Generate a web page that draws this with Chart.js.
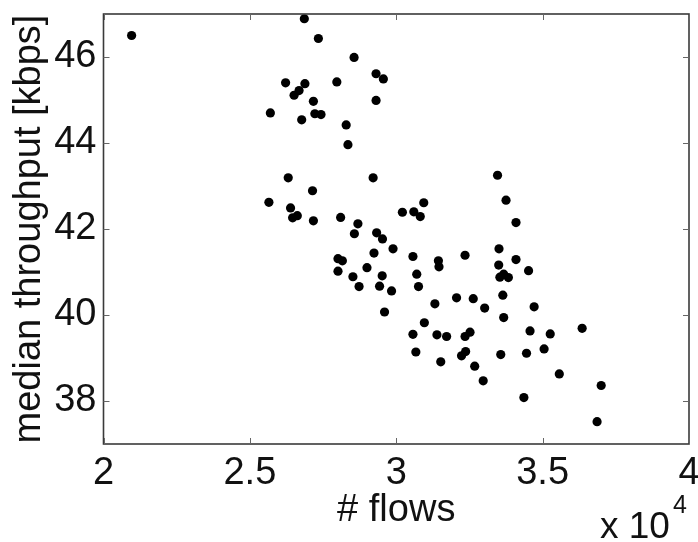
<!DOCTYPE html>
<html>
<head>
<meta charset="utf-8">
<script src="https://cdn.jsdelivr.net/npm/chart.js@4/dist/chart.umd.min.js"></script>
<style>
  html, body { margin: 0; padding: 0; background: #fff; }
  #wrap { width: 698px; height: 542px; }
</style>
</head>
<body>
<div id="wrap"><canvas id="c" width="698" height="542"></canvas></div>
<script>
// number of flows (raw counts; axis shows them in units of 10^4)
const flows = [
  20960, 26860, 27340, 28560, 29310, 29560, 26220, 26880, 27970, 26680,
  26510, 27170, 29310, 25700, 27220, 27430, 26770, 28290, 28350, 26310,
  29210, 27140, 25650, 26390, 26460, 26620, 27170, 28100, 28690, 30210,
  30600, 30940, 30820, 28570, 29330, 29530, 29890, 29240, 28010, 28160,
  30570, 31440, 31460, 32350, 29000, 28010, 28520, 29520, 30700, 28730,
  29430, 29840, 30760, 31320, 32060, 32630, 33020, 29600, 30960, 30570,
  31390, 31720, 32520, 32350, 33460, 33750, 34090, 33510, 34090, 33500,
  33540, 33670, 33830, 34520, 33640, 34710, 33670, 34570, 35260, 36350,
  30670, 31520, 32230, 32370, 32680, 33570, 34450, 35050, 32970, 35570,
  37000, 34360, 36860
];
// median throughput [kbps]
const throughput = [
  46.50, 46.89, 46.43, 45.99, 45.61, 45.49, 45.40, 45.38, 45.42, 45.22,
  45.11, 44.97, 44.99, 44.70, 44.68, 44.66, 44.54, 44.42, 43.96, 43.19,
  43.19, 42.89, 42.62, 42.49, 42.26, 42.31, 42.19, 42.27, 42.12, 42.39,
  42.40, 42.61, 42.29, 41.89, 41.91, 41.77, 41.54, 41.44, 41.31, 41.26,
  41.36, 41.26, 41.12, 41.39, 41.10, 41.02, 40.89, 40.91, 40.95, 40.66,
  40.67, 40.56, 40.66, 40.26, 40.40, 40.38, 40.16, 40.07, 39.82, 39.55,
  39.54, 39.50, 39.60, 39.50, 43.25, 42.67, 42.15, 41.54, 41.29, 41.16,
  40.88, 40.95, 40.87, 41.03, 40.46, 40.19, 39.94, 39.63, 39.56, 39.69,
  39.14, 38.91, 39.05, 39.15, 38.81, 39.08, 39.11, 39.21, 38.47, 38.63,
  38.36, 38.08, 37.52
];
const xTicks = [20000, 25000, 30000, 35000, 40000];
const yTicks = [38, 40, 42, 44, 46];
const xTitle = '# flows';
const yTitle = 'median throughput [kbps]';
const xExponent = '4';

const points = flows.map((f, i) => ({ x: f, y: throughput[i] }));
const FONT = 'Liberation Sans, Arial, Helvetica, sans-serif';

const boxPlugin = {
  id: 'matlabBox',
  afterDraw(chart) {
    const { ctx, chartArea: a, scales } = chart;
    ctx.save();
    ctx.strokeStyle = '#3a3a3a';
    ctx.lineWidth = 1.6;
    ctx.strokeRect(a.left, a.top, a.right - a.left, a.bottom - a.top);
    ctx.lineWidth = 1;
    ctx.strokeStyle = '#666';
    const tl = 6;
    ctx.beginPath();
    xTicks.forEach(v => {
      const px = Math.round(scales.x.getPixelForValue(v)) + 0.5;
      ctx.moveTo(px, a.bottom); ctx.lineTo(px, a.bottom - tl);
      ctx.moveTo(px, a.top); ctx.lineTo(px, a.top + tl);
    });
    yTicks.forEach(v => {
      const py = Math.round(scales.y.getPixelForValue(v)) + 0.5;
      ctx.moveTo(a.left, py); ctx.lineTo(a.left + tl, py);
      ctx.moveTo(a.right, py); ctx.lineTo(a.right - tl, py);
    });
    ctx.stroke();
    // exponent label "x 10^4"
    ctx.fillStyle = '#111';
    ctx.textBaseline = 'alphabetic';
    ctx.textAlign = 'left';
    ctx.font = '37px ' + FONT;
    ctx.fillText('x 10', 600, 538);
    const w = ctx.measureText('x 10').width;
    ctx.font = '25px ' + FONT;
    ctx.fillText(xExponent, 600 + w + 3, 513);
    ctx.restore();
  }
};

new Chart(document.getElementById('c'), {
  type: 'scatter',
  data: {
    datasets: [{
      data: points,
      backgroundColor: '#000',
      borderColor: '#000',
      pointRadius: 4.6,
      pointHoverRadius: 4.6,
      borderWidth: 0
    }]
  },
  options: {
    responsive: false,
    animation: false,
    devicePixelRatio: 1,
    layout: { padding: { top: 14, right: 9, left: 0, bottom: 0 } },
    plugins: { legend: { display: false }, tooltip: { enabled: false } },
    scales: {
      x: {
        type: 'linear',
        min: 20000, max: 40000,
        afterBuildTicks(s) { s.ticks = xTicks.map(v => ({ value: v })); },
        afterFit(s) { s.height = 98; s.paddingLeft = 0; s.paddingRight = 0; },
        grid: { display: false, drawTicks: false },
        border: { display: false },
        ticks: {
          padding: 7,
          color: '#111',
          font: { family: FONT, size: 38 },
          maxRotation: 0,
          autoSkip: false,
          callback: v => String(v / 10000)
        },
        title: {
          display: true,
          text: xTitle,
          color: '#111',
          font: { family: FONT, size: 38 },
          padding: { top: 0, bottom: 9 }
        }
      },
      y: {
        type: 'linear',
        min: 37, max: 47,
        afterBuildTicks(s) { s.ticks = yTicks.map(v => ({ value: v })); },
        afterFit(s) { s.width = 103.5; s.paddingTop = 0; s.paddingBottom = 0; },
        grid: { display: false, drawTicks: false },
        border: { display: false },
        ticks: {
          padding: 7,
          color: '#111',
          font: { family: FONT, size: 38 },
          autoSkip: false,
          callback: v => String(v)
        },
        title: {
          display: true,
          text: yTitle,
          color: '#111',
          font: { family: FONT, size: 38 },
          padding: { top: 7, bottom: 0 }
        }
      }
    }
  },
  plugins: [boxPlugin]
});
</script>
</body>
</html>
